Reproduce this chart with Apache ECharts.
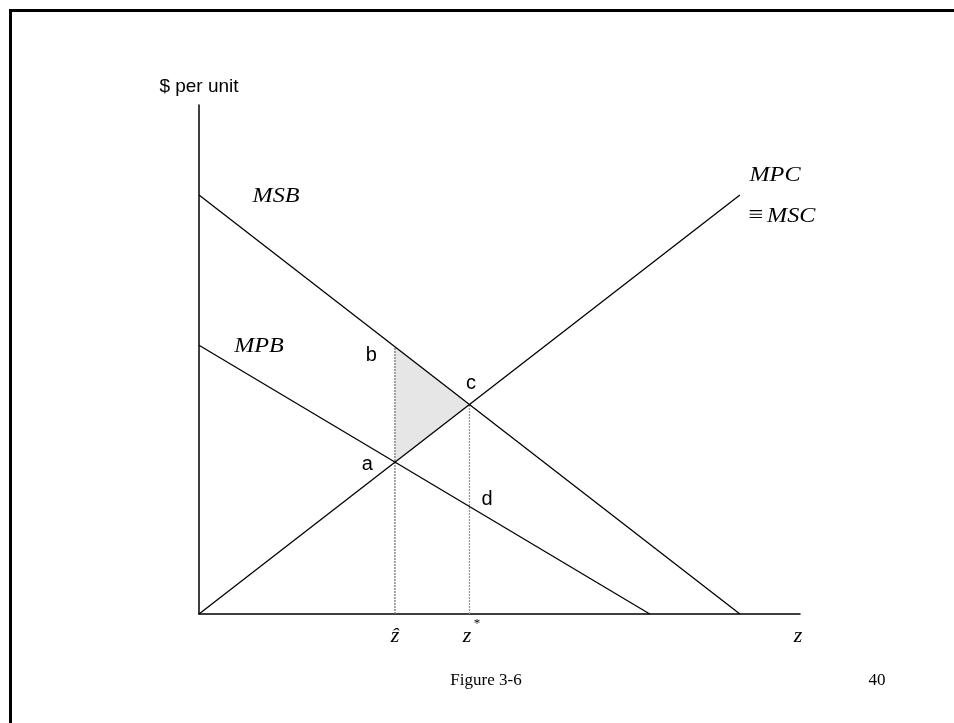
<!DOCTYPE html>
<html>
<head>
<meta charset="utf-8">
<script src="https://cdn.jsdelivr.net/npm/echarts@6/dist/echarts.min.js"></script>
<style>
  html, body { margin: 0; padding: 0; background: #fff; }
  #chart { width: 954px; height: 723px; }
</style>
</head>
<body>
<div id="chart"></div>
<script>
// curve end points (z on x, $ per unit on y)
const msbLine = [[0, 82.3], [90, 0]]
const mpbLine = [[0, 52.8], [75, 0]]
const mpcLine = [[0, 0], [90, 82.3]]

// named points
const pointNames = ['a', 'b', 'c', 'd']
const pointValues = [[32.6, 29.8], [32.6, 52.5], [45, 41.15], [45, 21.1]]

// quantities on the z axis
const zHat = 32.6
const zStar = 45

const serif = 'Liberation Serif, Times New Roman, serif'
const sans = 'Liberation Sans, Arial, sans-serif'

let myChart = echarts.init(document.getElementById('chart'))

// offsets of the point letters from their points
let labelOffsets = { a: [-28, 2], b: [-24, 9], c: [1, -21], d: [17, -7] }

// italic curve label
function curveText(text, x, y) {
  return {
    type: 'text', x: x, y: y, scaleX: 1.1,
    style: { text: text, font: 'italic 22px ' + serif, fill: '#000', align: 'center', verticalAlign: 'middle' }
  }
}

let option = {
  backgroundColor: '#fff',
  animation: false,
  grid: { left: 199, right: 154, top: 105, bottom: 109 },
  xAxis: {
    type: 'value',
    min: 0,
    max: 100,
    axisLine: { show: true, lineStyle: { color: '#000', width: 1.5 } },
    axisTick: { show: false },
    axisLabel: { show: false },
    splitLine: { show: false }
  },
  yAxis: {
    type: 'value',
    min: 0,
    max: 100,
    name: '$ per unit',
    nameLocation: 'end',
    nameGap: 9,
    nameTextStyle: { color: '#000', fontFamily: sans, fontSize: 19, align: 'center' },
    axisLine: { show: true, lineStyle: { color: '#000', width: 1.5 } },
    axisTick: { show: false },
    axisLabel: { show: false },
    splitLine: { show: false }
  },
  series: [
    {
      // shaded triangle b-c-a
      type: 'custom',
      silent: true,
      data: [0],
      renderItem: (params, api) => {
        let pts = [pointValues[1], pointValues[2], pointValues[0]].map(p => api.coord(p))
        return {
          type: 'polygon',
          shape: { points: pts },
          style: { fill: '#e6e6e6', stroke: 'none' }
        }
      },
      z: 1
    },
    {
      type: 'line',
      data: [[zHat, 0], pointValues[1]],
      symbol: 'none',
      lineStyle: { color: '#777', width: 1.3, type: [2, 1] },
      z: 2
    },
    {
      type: 'line',
      data: [[zStar, 0], pointValues[2]],
      symbol: 'none',
      lineStyle: { color: '#999', width: 1.3, type: [2, 1] },
      z: 2
    },
    {
      name: 'MSB',
      type: 'line',
      data: msbLine,
      symbol: 'none',
      lineStyle: { color: '#000', width: 1.3 },
      z: 3
    },
    {
      name: 'MPB',
      type: 'line',
      data: mpbLine,
      symbol: 'none',
      lineStyle: { color: '#000', width: 1.3 },
      z: 3
    },
    {
      name: 'MPC',
      type: 'line',
      data: mpcLine,
      symbol: 'none',
      lineStyle: { color: '#000', width: 1.3 },
      z: 3
    },
    {
      type: 'scatter',
      symbol: 'circle',
      symbolSize: 1,
      itemStyle: { color: 'rgba(0,0,0,0)' },
      data: pointNames.map((n, i) => ({ name: n, value: pointValues[i] })),
      label: {
        show: true,
        formatter: p => p.name,
        position: 'right',
        distance: 0,
        color: '#000',
        opacity: 1,
        fontFamily: sans,
        fontSize: 20,
        align: 'center',
        verticalAlign: 'middle'
      },
      labelLayout: p => {
        let off = labelOffsets[pointNames[p.dataIndex]]
        return { dx: off[0], dy: off[1] }
      },
      emphasis: { disabled: true },
      z: 4
    }
  ],
  graphic: [
    // slide frame
    {
      type: 'polyline',
      shape: { points: [[10.5, 800], [10.5, 10.5], [1000, 10.5]] },
      style: { stroke: '#000', lineWidth: 3, fill: 'none' }
    },
    curveText('MSB', 276, 196),
    curveText('MPB', 259, 346),
    curveText('MPC', 775, 175),
    {
      type: 'text', x: 782, y: 216, scaleX: 1.1,
      style: {
        text: '{s|≡} {i|MSC}',
        fill: '#000', align: 'center', verticalAlign: 'middle',
        rich: {
          s: { font: '24px ' + serif },
          i: { font: 'italic 22px ' + serif }
        }
      }
    },
    {
      type: 'text', x: 395, y: 636,
      style: { text: 'ẑ', font: 'italic 22px ' + serif, fill: '#000', align: 'center', verticalAlign: 'middle' }
    },
    {
      type: 'text', x: 467, y: 636,
      style: { text: 'z', font: 'italic 22px ' + serif, fill: '#000', align: 'center', verticalAlign: 'middle' }
    },
    {
      type: 'text', x: 477, y: 624,
      style: { text: '*', font: '13px ' + serif, fill: '#000', align: 'center', verticalAlign: 'middle' }
    },
    {
      type: 'text', x: 798, y: 636,
      style: { text: 'z', font: 'italic 22px ' + serif, fill: '#000', align: 'center', verticalAlign: 'middle' }
    },
    {
      type: 'text', x: 486, y: 681,
      style: { text: 'Figure 3-6', font: '17px ' + serif, fill: '#000', align: 'center', verticalAlign: 'middle' }
    },
    {
      type: 'text', x: 877, y: 681,
      style: { text: '40', font: '17px ' + serif, fill: '#000', align: 'center', verticalAlign: 'middle' }
    }
  ]
}

myChart.setOption(option)
</script>
</body>
</html>
